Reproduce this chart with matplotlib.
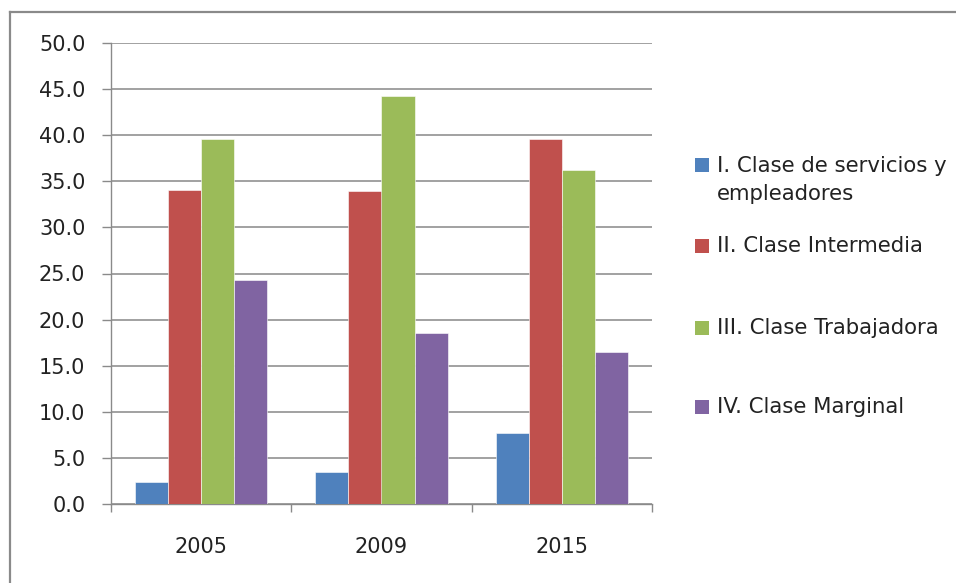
import matplotlib.pyplot as plt
import numpy as np
from matplotlib.lines import Line2D
from matplotlib.patches import Rectangle

# data
years = ['2005', '2009', '2015']
series_names = ['I. Clase de servicios y\nempleadores',
                'II. Clase Intermedia',
                'III. Clase Trabajadora',
                'IV. Clase Marginal']
clase_i = [2.4, 3.5, 7.7]
clase_ii = [34.1, 33.9, 39.6]
clase_iii = [39.6, 44.2, 36.2]
clase_iv = [24.3, 18.5, 16.5]
colors = ['#4F81BD', '#C0504D', '#9BBB59', '#8064A2']

W, H = 956., 583.
fig = plt.figure(figsize=(W / 100, H / 100), dpi=100)

# outer chart frame (cut at right and bottom, like the screenshot)
fig.add_artist(Line2D([10 / W, 10 / W], [0, 1 - 12 / H], color='#8a8a8a', lw=1.6,
                      transform=fig.transFigure))
fig.add_artist(Line2D([10 / W, 1], [1 - 12 / H, 1 - 12 / H], color='#8a8a8a', lw=1.6,
                      transform=fig.transFigure))

ax = fig.add_axes([111 / W, 1 - 504 / H, (652 - 111) / W, (504 - 43) / H])

x = np.arange(len(years))
width = 0.183
all_series = [clase_i, clase_ii, clase_iii, clase_iv]
for i, vals in enumerate(all_series):
    ax.bar(x + (i - 1.5) * width, vals, width, color=colors[i],
           edgecolor='white', linewidth=0.4, zorder=3)

ax.set_xlim(-0.5, len(years) - 0.5)
ax.set_ylim(0, 50)
ax.set_yticks(np.arange(0, 50.1, 5))
ax.set_yticklabels(['%.1f' % v for v in np.arange(0, 50.1, 5)])
ax.yaxis.grid(True, color='#9a9a9a', lw=1.3, zorder=0)
ax.set_axisbelow(True)

ax.set_xticks(x)
ax.set_xticklabels(years)
ax.set_xticks(np.arange(len(years) + 1) - 0.5, minor=True)
ax.tick_params(axis='x', which='major', length=0, pad=23.5, labelsize=15, colors='#222222')
ax.tick_params(axis='x', which='minor', length=6, width=1, color='#8a8a8a')
ax.tick_params(axis='y', length=6.5, width=1, color='#8a8a8a', pad=12,
               labelsize=15, labelcolor='#222222')

for side in ['top', 'right']:
    ax.spines[side].set_visible(False)
for side in ['left', 'bottom']:
    ax.spines[side].set_color('#8a8a8a')
    ax.spines[side].set_linewidth(1)

# legend, laid out by hand like the Excel one
leg_y = [180.5, 246, 328, 407]
marker_y = [165, 246, 328, 407]
for i, name in enumerate(series_names):
    fig.add_artist(Rectangle((695 / W, 1 - (marker_y[i] + 7) / H), 14 / W, 14 / H,
                             facecolor=colors[i], edgecolor='none',
                             transform=fig.transFigure))
    fig.text(717 / W, 1 - leg_y[i] / H, name, fontsize=15.3, color='#222222',
             va='center', ha='left', linespacing=1.5)

fig.savefig('out.png', dpi=100)
